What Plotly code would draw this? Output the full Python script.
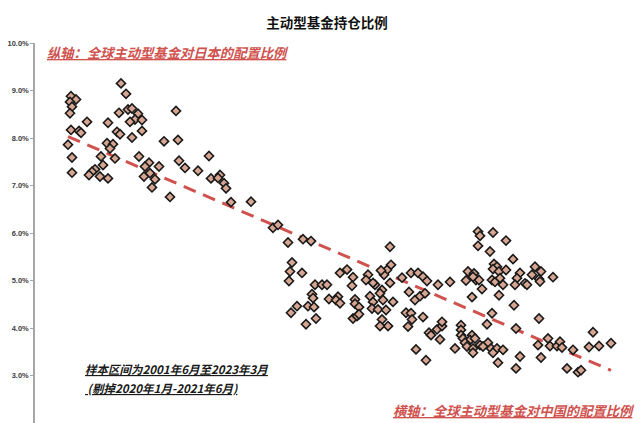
import numpy as np
import plotly.graph_objects as go

# 横轴：全球主动型基金对中国的配置比例 (scale; axis hidden)
china_alloc = [
    0.86, 0.91, 0.36, 0.41, 0.35, 0.37, 0.35, 0.84, 0.93, 0.97, 1.03, 1.00, 0.95, 1.07, 0.52, 0.73,
    1.07, 0.82, 0.85, 0.97, 0.36, 0.44, 0.46, 1.29, 0.33, 0.72, 0.78, 0.75, 0.66, 0.80, 1.04, 0.37,
    1.14, 1.10, 1.24, 0.68, 0.60, 0.57, 0.54, 0.65, 0.73, 0.37, 1.09, 1.15, 1.20, 1.17, 1.35, 1.41,
    1.43, 1.44,
    1.50, 1.63, 1.74, 1.76, 1.85, 1.83, 1.89, 1.91, 1.96, 2.16,
    2.38, 2.43, 2.53, 2.68, 2.76, 2.57, 2.55, 2.54, 2.67, 2.80, 2.87, 2.92, 3.05, 3.12, 3.18, 3.17,
    2.77, 2.78, 2.94, 3.03, 3.01, 3.05, 3.20, 3.20, 2.73, 2.79, 2.62, 2.56, 2.81, 2.71, 3.18, 3.22,
    3.55, 3.56, 3.52, 3.49, 3.55, 3.33, 3.31, 3.40, 3.67, 3.76, 3.83, 3.88, 3.92, 4.03, 3.74, 3.80,
    3.85, 3.90, 3.47, 3.45, 3.35, 3.38, 3.48, 3.58, 3.37, 3.43, 3.51, 3.24, 3.24, 3.71, 3.76, 3.77,
    3.88, 3.73, 3.47, 3.53, 3.45, 3.94, 4.02, 4.07, 4.05, 3.96, 3.81, 3.91, 3.46, 3.38,
    4.43, 4.45, 4.58, 4.71, 4.43, 4.55, 4.78, 4.59, 4.62, 4.58, 4.64, 4.71, 4.85, 4.33, 4.39, 4.41,
    4.44, 4.31, 4.38, 4.57, 4.60, 4.68, 4.65, 4.82, 4.80, 4.90, 4.15, 4.47, 4.64, 4.37, 4.79, 4.57,
    4.52, 4.81, 4.26, 4.26, 4.26, 4.28, 4.37, 4.35, 4.40, 4.30, 4.32, 4.20, 4.38, 4.45, 4.53, 4.56,
    4.62, 4.48, 4.38, 4.58, 4.68, 4.85, 4.63, 4.81, 4.07,
    5.00, 5.06, 4.97, 5.04, 5.05, 5.18, 4.92, 5.04, 5.13, 5.03, 5.15, 5.22, 5.25, 5.27, 5.38, 5.06,
    5.32, 5.43, 5.46, 5.58, 5.54, 5.64, 5.76,
]

# 纵轴：全球主动型基金对日本的配置比例 (%)
japan_alloc = [
    9.15, 8.93, 8.88, 8.81, 8.76, 8.66, 8.52, 8.53, 8.60, 8.62, 8.51, 8.39, 8.34, 8.38, 8.34, 8.32,
    8.15, 8.13, 8.08, 8.01, 8.17, 8.15, 8.11, 7.93, 7.86, 7.89, 7.87, 7.78, 7.61, 7.57, 7.61, 7.59,
    7.48, 7.40, 7.40, 7.43, 7.34, 7.29, 7.22, 7.19, 7.15, 7.27, 7.19, 7.26, 7.13, 6.96, 6.76, 8.57,
    7.96, 7.52,
    7.37, 7.31, 7.62, 7.15, 7.22, 7.16, 7.05, 6.94, 6.65, 6.66,
    6.11, 6.17, 5.80, 5.87, 5.83, 5.38, 5.19, 4.99, 5.16, 4.91, 4.91, 4.91, 5.16, 5.23, 5.07, 4.89,
    4.71, 4.63, 4.61, 4.66, 4.59, 4.52, 4.60, 4.51, 4.46, 4.44, 4.46, 4.32, 4.20, 4.08, 4.20, 4.25,
    5.71, 5.33, 5.22, 5.12, 4.95, 5.12, 5.01, 4.91, 5.06, 5.16, 5.16, 5.08, 4.99, 4.91, 4.76, 4.59,
    4.67, 4.73, 4.80, 4.73, 4.67, 4.55, 4.59, 4.55, 4.41, 4.39, 4.38, 4.44, 4.29, 4.32, 4.31, 4.18,
    4.23, 4.03, 4.18, 4.04, 4.04, 3.90, 3.97, 4.04, 3.76, 3.85, 3.55, 3.32, 5.21, 4.95,
    6.03, 5.94, 6.01, 5.84, 5.73, 5.61, 5.45, 5.35, 5.29, 5.24, 5.19, 5.22, 5.16, 5.19, 5.15, 5.01,
    5.01, 5.00, 5.08, 5.01, 4.97, 4.91, 5.05, 5.05, 4.91, 4.94, 4.97, 4.82, 4.69, 4.65, 4.48, 4.31,
    4.08, 3.99, 4.06, 3.96, 3.85, 3.78, 3.85, 3.75, 3.78, 3.69, 3.61, 3.57, 3.57, 3.64, 3.69, 3.57,
    3.57, 3.61, 3.48, 3.48, 3.54, 3.40, 3.27, 3.15, 4.13,
    5.29, 5.19, 5.12, 5.03, 4.98, 5.07, 4.91, 4.20, 3.78, 3.64, 3.62, 3.62, 3.71, 3.59, 3.54, 3.38,
    3.15, 3.07, 3.11, 3.91, 3.60, 3.62, 3.68,
]

y_ticks = [2, 3, 4, 5, 6, 7, 8, 9, 10]
y_tick_labels = ["2.0%", "3.0%", "4.0%", "5.0%", "6.0%", "7.0%", "8.0%", "9.0%", "10.0%"]

title_text = "主动型基金持仓比例"
y_note = "纵轴：全球主动型基金对日本的配置比例"
x_note = "横轴：全球主动型基金对中国的配置比例"
sample_note_1 = "样本区间为2001年6月至2023年3月"
sample_note_2 = " (剔掉2020年1月-2021年6月)"

x = np.array(china_alloc)
y = np.array(japan_alloc)
k, b = np.polyfit(x, y, 1)
trend_x = np.array([x.min(), x.max()])
trend_y = k * trend_x + b

CJK = "Noto Sans CJK SC"
RED = "#d0524e"

fig = go.Figure()
fig.add_trace(go.Scatter(
    x=trend_x, y=trend_y, mode="lines",
    line=dict(color=RED, width=3, dash="13px,8px"),
    hoverinfo="skip", showlegend=False,
))
fig.add_trace(go.Scatter(
    x=china_alloc, y=japan_alloc, mode="markers",
    marker=dict(symbol="diamond", size=7, color="#d7a692",
                line=dict(color="#1a1a1a", width=1.6)),
    showlegend=False, cliponaxis=False,
))

fig.update_layout(
    width=640, height=423,
    margin=dict(l=35, r=0, t=43, b=0),
    paper_bgcolor="white", plot_bgcolor="white",
    title=dict(text=title_text, x=0.511, xanchor="center", y=0.946, yanchor="middle",
               font=dict(family=CJK, size=13.5, color="#111111", weight="bold")),
    xaxis=dict(visible=False, range=[0, 6.05]),
    yaxis=dict(range=[2, 10], tickmode="array", tickvals=y_ticks, ticktext=y_tick_labels,
               showgrid=False, zeroline=False, showline=True, linecolor="#a6a6a6", linewidth=1.5,
               ticks="outside", ticklen=3, tickcolor="#a6a6a6",
               tickfont=dict(family="Liberation Sans", size=7.5, color="#404040", weight="bold")),
    annotations=[
        dict(x=0.10, y=9.79, xref="x", yref="y", text=y_note, showarrow=False,
             xanchor="left", yanchor="middle",
             font=dict(family=CJK, size=13.3, color=RED, weight="bold", style="italic",
                       lineposition="under")),
        dict(x=6.02, y=2.27, xref="x", yref="y", text=x_note, showarrow=False,
             xanchor="right", yanchor="middle",
             font=dict(family=CJK, size=13.3, color=RED, weight="bold", style="italic",
                       lineposition="under")),
        dict(x=0.48, y=3.14, xref="x", yref="y", text=sample_note_1, showarrow=False,
             xanchor="left", yanchor="middle",
             font=dict(family=CJK, size=11.5, color="#1a1a1a", weight="bold", style="italic",
                       lineposition="under")),
        dict(x=0.48, y=2.74, xref="x", yref="y", text=sample_note_2, showarrow=False,
             xanchor="left", yanchor="middle",
             font=dict(family=CJK, size=11.5, color="#1a1a1a", weight="bold", style="italic",
                       lineposition="under")),
    ],
)

fig.write_html("out.html")
